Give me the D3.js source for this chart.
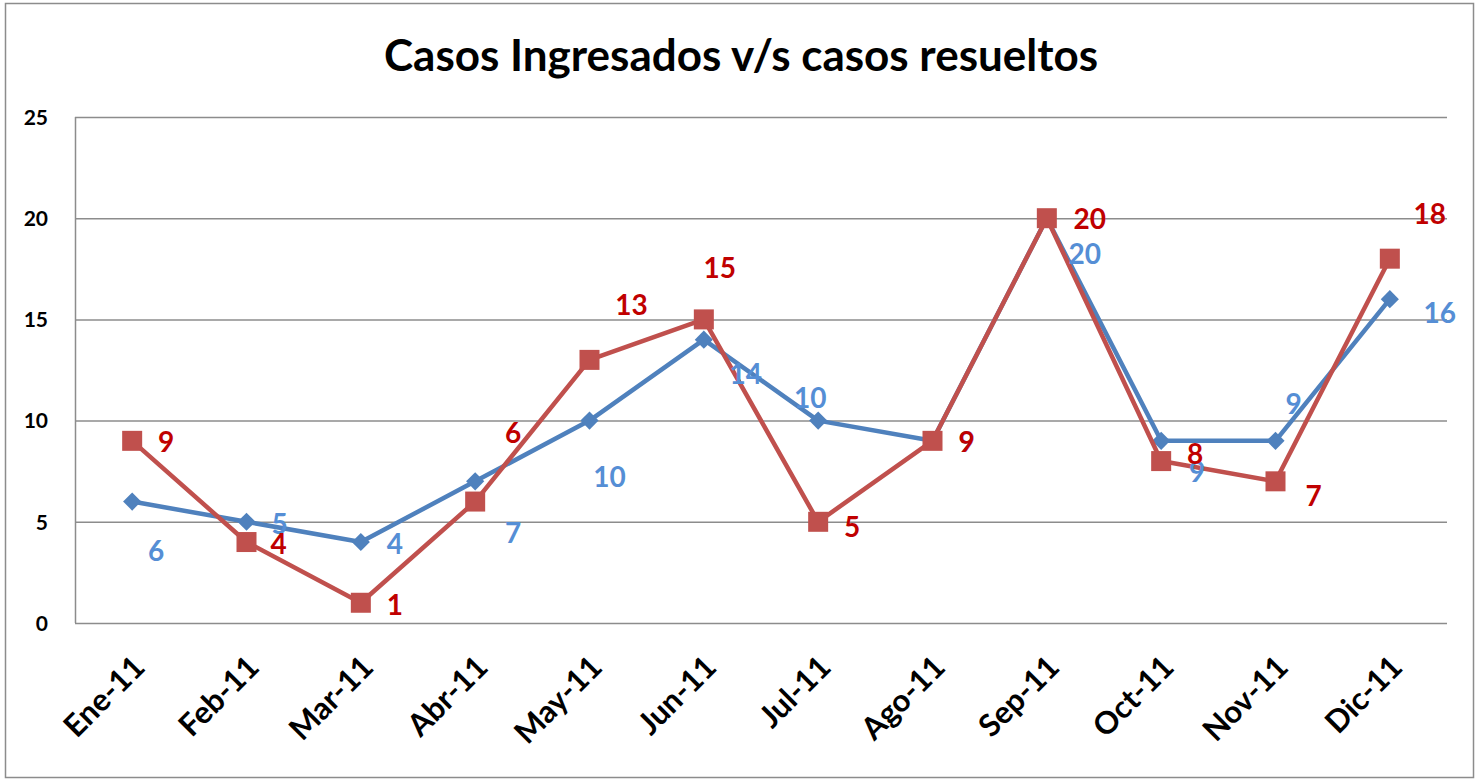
<!DOCTYPE html>
<html>
<head>
<meta charset="utf-8">
<script src="https://cdn.jsdelivr.net/npm/d3@7"></script>
<style>
  body { margin: 0; background: #fff; }
  svg { font-family: Lato, "Open Sans", sans-serif; font-weight: bold; }
</style>
</head>
<body>
<div id="chart"></div>
<script>
var W = 1478, H = 780;
var margin = {top: 117, right: 31, bottom: 157, left: 75};

// data
var months = ['Ene-11','Feb-11','Mar-11','Abr-11','May-11','Jun-11','Jul-11','Ago-11','Sep-11','Oct-11','Nov-11','Dic-11'];
var ingresados = [6, 5, 4, 7, 10, 14, 10, 9, 20, 9, 9, 16];
var resueltos = [9, 4, 1, 6, 13, 15, 5, 9, 20, 8, 7, 18];
var yTicks = [0, 5, 10, 15, 20, 25];

// label nudges (px) for each point, as placed in the original
var blueOff = [[24,48],[33,1],[34,1],[38,51],[20,55],[42,33],[-8,-24],[34,0],[38,35],[36,30],[18,-38],[50,13]];
var redOff  = [[34,0],[32,1],[34,1],[38,-70],[42,-56],[16,-52],[34,4],[34,0],[43,0],[34,-8],[38,14],[40,-46]];

var width = W - margin.left - margin.right;
var height = H - margin.top - margin.bottom;

var svg = d3.select('#chart').append('svg')
    .attr('width', W)
    .attr('height', H);

svg.append('rect')
    .attr('x', 5.5).attr('y', 3.5)
    .attr('width', W - 10).attr('height', H - 6)
    .attr('fill', 'white')
    .attr('stroke', '#8c8c8c')
    .attr('stroke-width', 1.5);

svg.append('text')
    .attr('x', 741)
    .attr('y', 71)
    .attr('text-anchor', 'middle')
    .style('font-size', '44px')
    .attr('fill', '#000')
    .text('Casos Ingresados v/s casos resueltos');

var g = svg.append('g')
    .attr('transform', 'translate(' + margin.left + ',' + margin.top + ')');

var x = d3.scalePoint()
    .domain(months)
    .range([0, width])
    .padding(0.5);

var y = d3.scaleLinear()
    .domain([0, 25])
    .range([height, 0]);

// gridlines
g.selectAll('.grid')
    .data(yTicks)
    .enter().append('line')
    .attr('x1', 0).attr('x2', width)
    .attr('y1', function(d) { return y(d) + 0.5; })
    .attr('y2', function(d) { return y(d) + 0.5; })
    .attr('stroke', '#8c8c8c')
    .attr('stroke-width', 1.5);

g.append('line')
    .attr('x1', 0.5).attr('x2', 0.5)
    .attr('y1', 0).attr('y2', height)
    .attr('stroke', '#8c8c8c')
    .attr('stroke-width', 1.5);

// y axis
var yAxis = g.append('g')
    .call(d3.axisLeft(y).tickValues(yTicks).tickSize(0).tickPadding(0));
yAxis.select('.domain').remove();
yAxis.selectAll('text')
    .attr('x', -27)
    .attr('dy', '0.35em')
    .attr('text-anchor', 'end')
    .style('font-size', '21px')
    .style('font-family', 'Lato, sans-serif')
    .style('font-weight', 'bold')
    .attr('fill', '#000');

// x axis
var xAxis = g.append('g')
    .attr('transform', 'translate(0,' + height + ')')
    .call(d3.axisBottom(x).tickSize(0));
xAxis.select('.domain').remove();
xAxis.selectAll('text')
    .attr('text-anchor', 'end')
    .attr('dy', 0)
    .attr('y', 0)
    .attr('transform', 'translate(14,46) rotate(-45)')
    .style('font-size', '31px')
    .style('font-family', 'Lato, sans-serif')
    .style('font-weight', 'bold')
    .attr('fill', '#000');

var line = d3.line()
    .x(function(d, i) { return x(months[i]); })
    .y(function(d) { return y(d); });

// blue series
g.append('path')
    .datum(ingresados)
    .attr('d', line)
    .attr('fill', 'none')
    .attr('stroke', '#4f81bd')
    .attr('stroke-width', 4.5)
    .attr('stroke-linejoin', 'round');

g.selectAll('.diamond')
    .data(ingresados)
    .enter().append('path')
    .attr('d', d3.symbol().type(d3.symbolDiamond2).size(210))
    .attr('transform', function(d, i) { return 'translate(' + x(months[i]) + ',' + y(d) + ')'; })
    .attr('fill', '#4f81bd');

// red series
g.append('path')
    .datum(resueltos)
    .attr('d', line)
    .attr('fill', 'none')
    .attr('stroke', '#c0504d')
    .attr('stroke-width', 4.5)
    .attr('stroke-linejoin', 'round');

g.selectAll('.square')
    .data(resueltos)
    .enter().append('rect')
    .attr('x', function(d, i) { return x(months[i]) - 10; })
    .attr('y', function(d) { return y(d) - 10; })
    .attr('width', 20).attr('height', 20)
    .attr('fill', '#c0504d');

// labels
g.selectAll('.lblBlue')
    .data(ingresados)
    .enter().append('text')
    .attr('x', function(d, i) { return x(months[i]) + blueOff[i][0]; })
    .attr('y', function(d, i) { return y(d) + blueOff[i][1]; })
    .attr('text-anchor', 'middle')
    .attr('dominant-baseline', 'central')
    .style('font-size', '28px')
    .attr('fill', '#558ed5')
    .text(function(d) { return d; });

g.selectAll('.lblRed')
    .data(resueltos)
    .enter().append('text')
    .attr('x', function(d, i) { return x(months[i]) + redOff[i][0]; })
    .attr('y', function(d, i) { return y(d) + redOff[i][1]; })
    .attr('text-anchor', 'middle')
    .attr('dominant-baseline', 'central')
    .style('font-size', '28px')
    .attr('fill', '#c00000')
    .text(function(d) { return d; });
</script>
</body>
</html>
